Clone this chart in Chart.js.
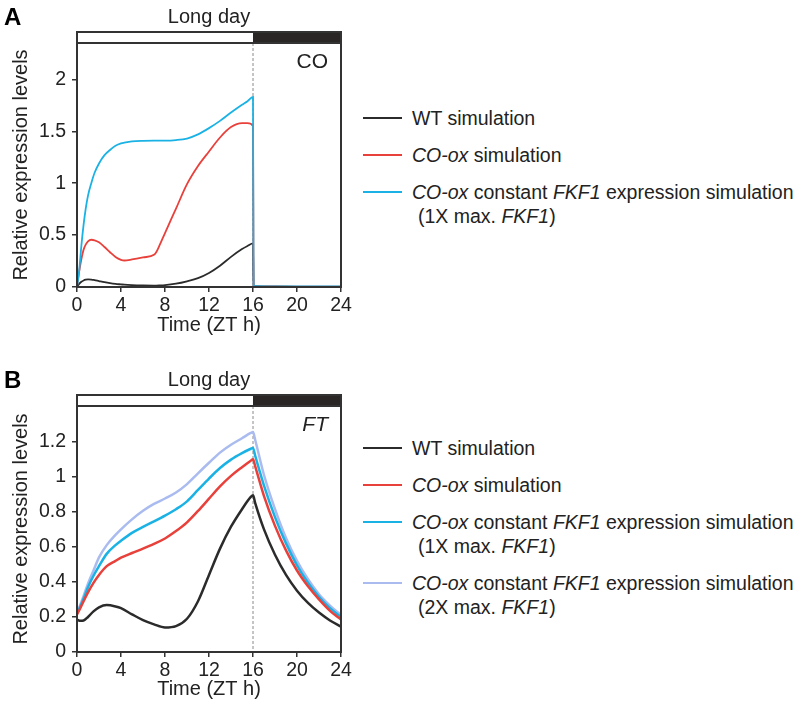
<!DOCTYPE html>
<html>
<head>
<meta charset="utf-8">
<script src="https://cdn.jsdelivr.net/npm/chart.js@4.4.0/dist/chart.umd.min.js"></script>
<style>
  body { margin: 0; width: 806px; height: 704px; overflow: hidden; background: #fff; position: relative;
         font-family: "Liberation Sans", Arial, sans-serif; color: #222; }
  canvas { position: absolute; left: 0; }
  #chartA { top: 0; }
  #chartB { top: 360px; }
  .legend { position: absolute; left: 363px; font-size: 19.5px; line-height: 24px; }
  .item { position: relative; margin-bottom: 13px; padding-left: 49px; white-space: nowrap; }
  .item .sw { position: absolute; left: 0; top: 11px; width: 39px; height: 2px; }
  .item .sub { padding-left: 6px; }
</style>
</head>
<body>
<canvas id="chartA" width="360" height="345"></canvas>
<canvas id="chartB" width="360" height="344"></canvas>
<div class="legend" id="legendA" style="top:106px"></div>
<div class="legend" id="legendB" style="top:436px"></div>
<script>
// Panel A: CO
const timesA = [0, 0.2, 0.4, 0.6, 0.8, 1, 1.3, 1.6, 2, 2.5, 3, 3.5, 4, 4.3, 5, 6, 7, 7.2, 7.5, 8, 9, 10, 11, 12, 13, 14, 15, 15.5, 16, 16.05, 18, 20, 24];
const coWT   = [0, 0.03, 0.05, 0.063, 0.07, 0.073, 0.072, 0.066, 0.057, 0.046, 0.037, 0.03, 0.025, 0.022, 0.018, 0.015, 0.014, 0.014, 0.015, 0.018, 0.032, 0.055, 0.085, 0.135, 0.205, 0.29, 0.365, 0.395, 0.42, 0.005, 0.003, 0.002, 0.002];
const coOx   = [0, 0.15, 0.27, 0.36, 0.41, 0.44, 0.455, 0.45, 0.43, 0.385, 0.335, 0.29, 0.262, 0.255, 0.265, 0.285, 0.31, 0.335, 0.4, 0.52, 0.755, 0.99, 1.165, 1.305, 1.44, 1.54, 1.578, 1.578, 1.55, 0.01, 0.005, 0.003, 0.003];
const coOx1X = [0, 0.16, 0.4, 0.6, 0.76, 0.88, 1.0, 1.1, 1.19, 1.27, 1.32, 1.36, 1.383, 1.39, 1.402, 1.408, 1.41, 1.41, 1.41, 1.41, 1.415, 1.43, 1.47, 1.53, 1.6, 1.68, 1.755, 1.79, 1.83, 0.01, 0.006, 0.005, 0.005];

// Panel B: FT
const timesB = [0, 0.3, 0.6, 1, 1.5, 2, 2.7, 3.5, 4, 5, 6, 7, 8, 9, 10, 11, 12, 13, 14, 15, 15.8, 16, 16.2, 17, 18, 19, 20, 21, 22, 23, 24];
const ftWT   = [0.185, 0.178, 0.18, 0.2, 0.232, 0.255, 0.268, 0.26, 0.25, 0.215, 0.182, 0.158, 0.14, 0.148, 0.19, 0.29, 0.44, 0.59, 0.715, 0.815, 0.885, 0.895, 0.85, 0.7, 0.555, 0.44, 0.35, 0.28, 0.225, 0.18, 0.145];
const ftOx   = [0.215, 0.25, 0.29, 0.34, 0.395, 0.44, 0.49, 0.52, 0.538, 0.565, 0.59, 0.617, 0.648, 0.69, 0.74, 0.805, 0.875, 0.945, 1.005, 1.055, 1.092, 1.1, 1.06, 0.89, 0.72, 0.58, 0.465, 0.375, 0.3, 0.235, 0.185];
const ftOx1X = [0.22, 0.26, 0.305, 0.37, 0.435, 0.49, 0.56, 0.61, 0.635, 0.68, 0.714, 0.745, 0.778, 0.815, 0.86, 0.925, 0.99, 1.05, 1.098, 1.135, 1.16, 1.165, 1.12, 0.95, 0.77, 0.62, 0.495, 0.395, 0.315, 0.25, 0.2];
const ftOx2X = [0.225, 0.27, 0.32, 0.39, 0.465, 0.54, 0.61, 0.668, 0.7, 0.757, 0.806, 0.845, 0.876, 0.91, 0.958, 1.02, 1.08, 1.138, 1.183, 1.22, 1.25, 1.255, 1.21, 1.01, 0.815, 0.65, 0.52, 0.415, 0.33, 0.265, 0.21];

const xTicks = [0, 4, 8, 12, 16, 20, 24];
const dayEnd = 16;

const labelWT = 'WT simulation';
const labelOx = '<i>CO-ox</i> simulation';
const label1X = ['<i>CO-ox</i> constant <i>FKF1</i> expression simulation', '(1X max. <i>FKF1</i>)'];
const label2X = ['<i>CO-ox</i> constant <i>FKF1</i> expression simulation', '(2X max. <i>FKF1</i>)'];

const BLACK = '#2b2b2b', RED = '#e8403a', CYAN = '#1ab2e4', LAV = '#a9bbef';
const FONT = '"Liberation Sans", Arial, sans-serif';

const decor = {
  id: 'decor',
  beforeDatasetsDraw(chart) {
    const { ctx, chartArea: a, scales: { x } } = chart;
    const px = x.getPixelForValue(dayEnd);
    ctx.save();
    ctx.strokeStyle = '#8a8a8a';
    ctx.lineWidth = 1;
    ctx.setLineDash([3, 2]);
    ctx.beginPath();
    ctx.moveTo(px, a.top);
    ctx.lineTo(px, a.bottom);
    ctx.stroke();
    ctx.restore();
  },
  afterDraw(chart, args, opts) {
    const { ctx, chartArea: a, scales: { x } } = chart;
    const px = x.getPixelForValue(dayEnd);
    ctx.save();
    // light / dark bar
    ctx.fillStyle = '#fff';
    ctx.fillRect(a.left, a.top - 11, px - a.left, 11);
    ctx.fillStyle = '#2b2626';
    ctx.fillRect(px, a.top - 11, a.right - px, 11);
    ctx.strokeStyle = '#333';
    ctx.lineWidth = 2;
    ctx.strokeRect(a.left, a.top - 11, a.right - a.left, 11);
    ctx.strokeRect(a.left, a.top, a.right - a.left, a.bottom - a.top);
    // texts
    ctx.fillStyle = '#222';
    ctx.textBaseline = 'middle';
    ctx.textAlign = 'center';
    ctx.font = '20px ' + FONT;
    ctx.fillText('Long day', (a.left + a.right) / 2, a.top - 26);
    ctx.textAlign = 'right';
    ctx.font = (opts.italic ? 'italic ' : '') + '21px ' + FONT;
    ctx.fillText(opts.gene, a.right - 13, a.top + 19);
    ctx.textAlign = 'left';
    ctx.fillStyle = '#000';
    ctx.font = 'bold 24px ' + FONT;
    ctx.fillText(opts.letter, 4, a.top - 25);
    ctx.restore();
  }
};

function buildPanel(id, cfg) {
  const tickFont = { family: FONT, size: 19.5 };
  const titleFont = { family: FONT, size: 20 };
  return new Chart(document.getElementById(id), {
    type: 'line',
    data: {
      datasets: cfg.series.map((s) => ({
        data: cfg.times.map((t, i) => ({ x: t, y: s.values[i] })),
        borderColor: s.color,
        borderWidth: cfg.lineWidth,
        pointRadius: 0,
        cubicInterpolationMode: 'monotone',
        fill: false,
        order: s.order,
      })),
    },
    options: {
      responsive: false,
      animation: false,
      layout: { padding: { top: cfg.padTop, right: 19, left: 0, bottom: 0 } },
      plugins: {
        legend: { display: false },
        tooltip: { enabled: false },
        decor: { gene: cfg.gene, italic: cfg.italic, letter: cfg.letter },
      },
      scales: {
        x: {
          type: 'linear', min: 0, max: 24,
          afterFit: (s) => { s.height = cfg.xHeight; },
          afterBuildTicks: (s) => { s.ticks = xTicks.map((v) => ({ value: v })); },
          ticks: { font: tickFont, color: '#222', padding: 2, maxRotation: 0 },
          grid: { drawOnChartArea: false, drawTicks: true, tickLength: 5, color: '#333', lineWidth: 1.5 },
          border: { display: false },
          title: { display: true, text: 'Time (ZT h)', font: titleFont, color: '#222', padding: { top: 0, bottom: cfg.xTitlePad } },
        },
        y: {
          min: 0, max: cfg.yMax,
          afterFit: (s) => { s.width = 77; },
          afterBuildTicks: (s) => { s.ticks = cfg.yTicks.map((v) => ({ value: v })); },
          ticks: { font: tickFont, color: '#222', padding: 6, callback: (v) => String(+v.toFixed(2)) },
          grid: { drawOnChartArea: false, drawTicks: true, tickLength: 5, color: '#333', lineWidth: 1.5 },
          border: { display: false },
          title: { display: true, text: 'Relative expression levels', font: titleFont, color: '#222', padding: { top: 9, bottom: 0 } },
        },
      },
    },
    plugins: [decor],
  });
}

buildPanel('chartA', {
  times: timesA, yMax: 2.35, yTicks: [0, 0.5, 1, 1.5, 2], padTop: 43, xHeight: 58, xTitlePad: 8,
  gene: 'CO', italic: false, letter: 'A', lineWidth: 1.8,
  series: [
    { values: coWT, color: BLACK, order: 3 },
    { values: coOx, color: RED, order: 2 },
    { values: coOx1X, color: CYAN, order: 1 },
  ],
});

buildPanel('chartB', {
  times: timesB, yMax: 1.404, yTicks: [0, 0.2, 0.4, 0.6, 0.8, 1, 1.2], padTop: 46, xHeight: 52, xTitlePad: 3,
  gene: 'FT', italic: true, letter: 'B', lineWidth: 2.5,
  series: [
    { values: ftWT, color: BLACK, order: 1 },
    { values: ftOx, color: RED, order: 2 },
    { values: ftOx1X, color: CYAN, order: 3 },
    { values: ftOx2X, color: LAV, order: 4 },
  ],
});

function buildLegend(id, entries) {
  const el = document.getElementById(id);
  entries.forEach(([color, label]) => {
    const lines = Array.isArray(label) ? label : [label];
    const item = document.createElement('div');
    item.className = 'item';
    item.innerHTML = `<span class="sw" style="background:${color}"></span>` +
      lines.map((l, i) => `<div class="${i ? 'sub' : ''}">${l}</div>`).join('');
    el.appendChild(item);
  });
}

buildLegend('legendA', [[BLACK, labelWT], [RED, labelOx], [CYAN, label1X]]);
buildLegend('legendB', [[BLACK, labelWT], [RED, labelOx], [CYAN, label1X], [LAV, label2X]]);
</script>
</body>
</html>
